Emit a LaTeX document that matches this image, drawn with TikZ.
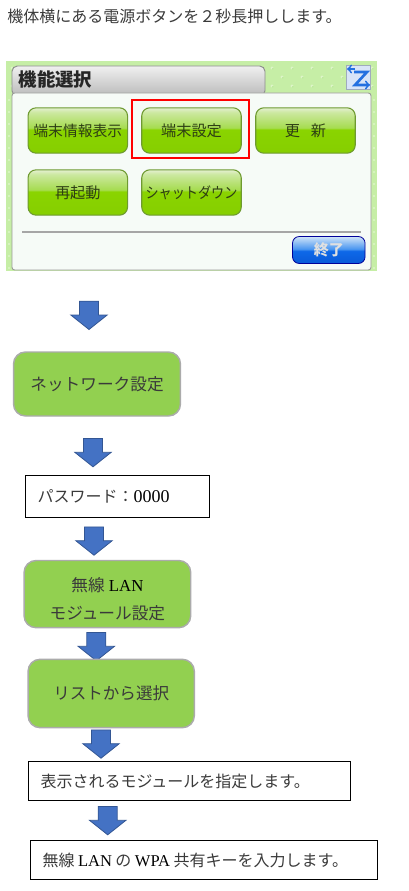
\documentclass[tikz,border=0pt]{standalone}
\usepackage{fontspec}
\setmainfont{Liberation Serif}
\newfontfamily\jpfont{Noto Sans CJK JP}
\usetikzlibrary{shapes.arrows}

\definecolor{jatext}{HTML}{3A3A3A}
\definecolor{scrtext}{HTML}{2E3E14}
\definecolor{btnedge}{HTML}{6E9A30}
\definecolor{scrback}{HTML}{C6EEA6}
\definecolor{scrdot}{HTML}{DDF5C8}
\definecolor{scrdotb}{HTML}{B4E492}
\definecolor{panelback}{HTML}{F6FBF7}
\definecolor{iconback}{HTML}{D8E4F8}
\definecolor{iconblue}{HTML}{2470E0}
\definecolor{flowgreen}{HTML}{92D050}
\definecolor{flowblue}{HTML}{4472C4}
\definecolor{greenlow}{HTML}{86CE00}
\definecolor{greenmid}{HTML}{8AD400}
\definecolor{greenup}{HTML}{A6DC50}
\definecolor{greenpale}{HTML}{CCE8A0}
\definecolor{greentop}{HTML}{E4F0D0}
\definecolor{bluelow}{HTML}{0A5AD8}
\definecolor{bluemid}{HTML}{0E68E8}
\definecolor{blueup}{HTML}{4A96F0}
\definecolor{bluetop}{HTML}{D0E4F8}
\newcommand{\ja}[2][12]{{\jpfont\color{jatext}\fontsize{#1}{14}\selectfont #2}}

\pgfdeclareverticalshading{greenbtn}{100bp}{
  color(0bp)=(greenlow); color(25bp)=(greenlow); color(51bp)=(greenmid);
  color(53bp)=(greenup); color(70bp)=(greenpale); color(75bp)=(greentop); color(100bp)=(greentop)}
\pgfdeclareverticalshading{bluebtn}{100bp}{
  color(0bp)=(bluelow); color(25bp)=(bluelow); color(48bp)=(bluemid);
  color(52bp)=(blueup); color(75bp)=(bluetop); color(100bp)=(bluetop)}

\tikzset{
  scrbtn/.style={draw=btnedge, line width=0.8pt, rounded corners=6pt, shade, shading=greenbtn,
    minimum width=74.6pt, minimum height=34pt, inner sep=0pt, text=scrtext},
  flowstep/.style={draw=black!33, line width=1.1pt, fill=flowgreen, rounded corners=9pt,
    inner sep=0pt, align=center, font=\fontsize{12.6}{21}\selectfont},
  flownote/.style={draw=black, line width=0.9pt, inner xsep=9pt, inner ysep=0pt, align=left,
    font=\fontsize{12.4}{16}\selectfont},
  flowarrow/.style={single arrow, draw=flowblue!75!black, line width=0.6pt, fill=flowblue,
    shape border rotate=270, anchor=tip, inner sep=6.85pt, minimum height=21.2pt,
    single arrow head extend=6.5pt, single arrow tip angle=103, single arrow head indent=0pt}
}

\begin{document}
\begin{tikzpicture}[x=0.75pt,y=-0.75pt]
  \useasboundingbox (0,0) rectangle (409,891);

  % Opening sentence
  \node[anchor=west, inner sep=0pt] (intro) at (7,16)
    {\ja{機体横にある電源ボタンを２秒長押しします。}};

  % Screen background
  \fill[scrback] (6,61) rectangle (377,271);
  \begin{scope}
    \clip (6,61) rectangle (377,271);
    \foreach \i in {0,...,18}{
      \foreach \j in {0,...,3}{
        \fill[scrdot] ({12+\i*20+mod(\j,2)*10},{68+\j*9}) circle (1.7);
        \fill[scrdotb] ({12.8+\i*20+mod(\j,2)*10},{68.8+\j*9}) circle (0.8);
      }
    }
    \foreach \j in {0,...,14}{
      \fill[scrdot] (9,{100+\j*12}) circle (1.2);
      \fill[scrdot] (374,{100+\j*12}) circle (1.2);
    }
  \end{scope}

  % Tab and panel
  \draw[draw=black!45, line width=0.7pt, top color=black!6, bottom color=black!27, rounded corners=4pt]
    (12,96) -- (12,66) -- (265,66) -- (265,96) -- cycle;
  \draw[draw=black!40, line width=0.7pt, fill=panelback, rounded corners=2pt]
    (12,93) rectangle (371,270);
  \node[inner sep=0pt, text=black!85] (title) at (55.5,79)
    {{\jpfont\bfseries\fontsize{13.8}{16}\selectfont 機能選択}};

  % Switch icon
  \draw[fill=iconback, draw=iconblue!40!black!40, line width=0.6pt] (346,65) rectangle (370,89);
  \draw[iconblue, line width=2pt] (354,72) -- (367,72) -- (355,85) -- (368,85);
  \draw[->, iconblue, line width=1.4pt] (355,69) -- (347,69);
  \draw[->, iconblue, line width=1.4pt] (362,85) -- (370,85);

  % Buttons
  \foreach \name/\cx/\cy/\lbl/\sz in {
      info/77.8/130.5/端末情報表示/11.1,
      setting/191.5/130.5/端末設定/11.4,
      update/305.5/130.5/更\hspace{0.7em}新/11.4,
      restart/77.8/192.5/再起動/11.4,
      shutdown/191.5/192.5/\scalebox{0.87}[1]{シャットダウン}/11.3}{
    \node[scrbtn] (\name) at (\cx,\cy) {{\jpfont\fontsize{\sz}{14}\selectfont \lbl}};
  }
  \draw[red, line width=1.5pt] (132,100) rectangle (249,158);
  \draw[black!35, line width=0.8pt] (22,232) -- (361,232);
  \node[draw=blue!60!black, line width=0.6pt, rounded corners=5pt, shade, shading=bluebtn,
    minimum width=54.4pt, minimum height=20.2pt, inner sep=0pt, text=white!88!black] (finish) at (328.8,250)
    {{\jpfont\bfseries\fontsize{11.2}{14}\selectfont 終了}};

  % Flow
  \node[flowarrow] (arrowa) at (89,330) {};
  \node[flowstep, minimum width=125.2pt, minimum height=48pt] (network) at (97,384)
    {\ja[12.5]{ネットワーク設定}};
  \node[flowarrow] (arrowb) at (93,467.3) {};
  \node[flownote, text width=120pt, minimum height=31.5pt] (password) at (117.5,496.5)
    {\ja{パスワード：}{\fontsize{13.5}{16}\selectfont 0000}};
  \node[flowarrow] (arrowc) at (94,555.7) {};
  \node[flowstep, minimum width=125pt, minimum height=50.4pt] (wireless) at (107.4,594.1)
    {\rule{0pt}{18.5pt}\ja[12.5]{無線} LAN\\\ja[12.5]{モジュール設定}};
  \node[flowarrow] (arrowd) at (96.3,661.3) {};
  \node[flowstep, minimum width=124.7pt, minimum height=51.3pt] (listsel) at (111.2,693.5)
    {\ja[12.4]{リストから選択}};
  \node[flowarrow] (arrowe) at (101,758.7) {};
  \node[flownote, text width=223.5pt, minimum height=29pt] (module) at (189.5,781)
    {\ja{表示されるモジュールを指定します。}};
  \node[flowarrow] (arrowf) at (107.7,835.3) {};
  \node[flownote, text width=242.2pt, minimum height=29pt] (wpakey) at (204,860)
    {\ja{無線}\hspace{2.6pt}LAN\hspace{2.6pt}\ja{の}\hspace{2.6pt}WPA\hspace{2.6pt}\ja{共有キーを入力します。}};

\end{tikzpicture}
\end{document}
